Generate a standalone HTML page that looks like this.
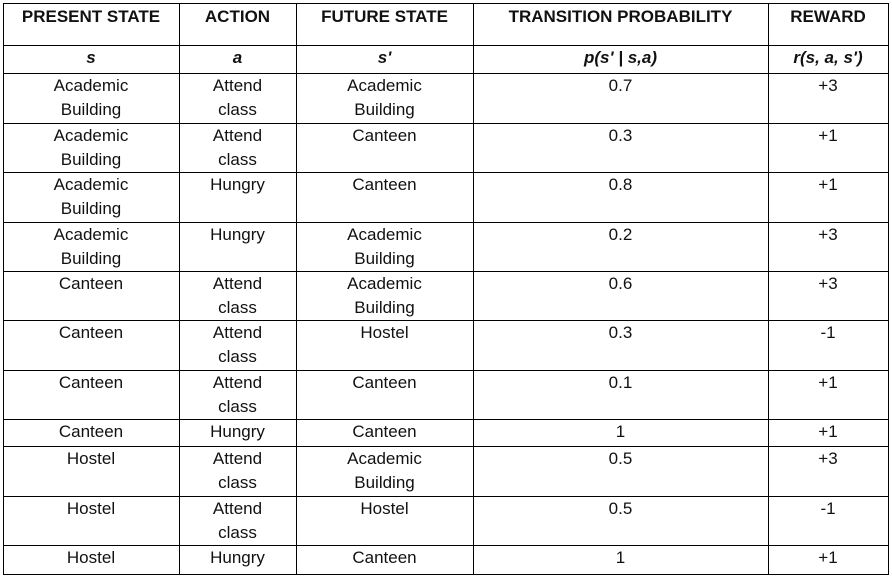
<!DOCTYPE html>
<html><head><meta charset="utf-8"><style>
body{margin:0;width:892px;height:577px;background:#fff;position:relative;overflow:hidden;font-family:"Liberation Sans",sans-serif;color:#111}
.h{position:absolute;background:#000;height:1px}
.v{position:absolute;background:#000;width:1px}
.c{position:absolute;text-align:center;font-size:17px;line-height:24px}
.hd{font-weight:bold}
.it{font-weight:bold;font-style:italic}
</style></head><body>
<div id="t"></div>
<script>
const cols=[3,179,296,473,768,888];
const rows=[3,45,73,123,172,222,271,320,370,419,446,496,545,574];
const headers=["PRESENT STATE","ACTION","FUTURE STATE","TRANSITION PROBABILITY","REWARD"];
const symbols=["s","a","s'","p(s' | s,a)","r(s, a, s')"];
const data=[
["Academic<br>Building","Attend<br>class","Academic<br>Building","0.7","+3"],
["Academic<br>Building","Attend<br>class","Canteen","0.3","+1"],
["Academic<br>Building","Hungry","Canteen","0.8","+1"],
["Academic<br>Building","Hungry","Academic<br>Building","0.2","+3"],
["Canteen","Attend<br>class","Academic<br>Building","0.6","+3"],
["Canteen","Attend<br>class","Hostel","0.3","-1"],
["Canteen","Attend<br>class","Canteen","0.1","+1"],
["Canteen","Hungry","Canteen","1","+1"],
["Hostel","Attend<br>class","Academic<br>Building","0.5","+3"],
["Hostel","Attend<br>class","Hostel","0.5","-1"],
["Hostel","Hungry","Canteen","1","+1"]];
const b=document.body;
rows.forEach((y,i)=>{const d=document.createElement('div');d.className='h';d.style.cssText=`left:${cols[0]}px;top:${y}px;width:${cols[5]-cols[0]+1}px`;

b.appendChild(d);});
cols.forEach((x,i)=>{const d=document.createElement('div');d.className='v';d.style.cssText=`left:${x}px;top:${rows[0]}px;height:${rows[13]-rows[0]+1}px`;

b.appendChild(d);});
function cell(r,c,html,cls,name){const d=document.createElement('div');d.className='c '+cls;
d.style.cssText=`left:${cols[c]}px;top:${rows[r]+(r==0?2:1)}px;width:${cols[c+1]-cols[c]}px`;d.innerHTML=html;

b.appendChild(d);}
headers.forEach((h,c)=>cell(0,c,h,'hd','header-cell'));
symbols.forEach((h,c)=>cell(1,c,h,'it','symbol-cell'));
data.forEach((row,r)=>row.forEach((v,c)=>cell(r+2,c,v,'','data-cell')));
</script>
</body></html>
